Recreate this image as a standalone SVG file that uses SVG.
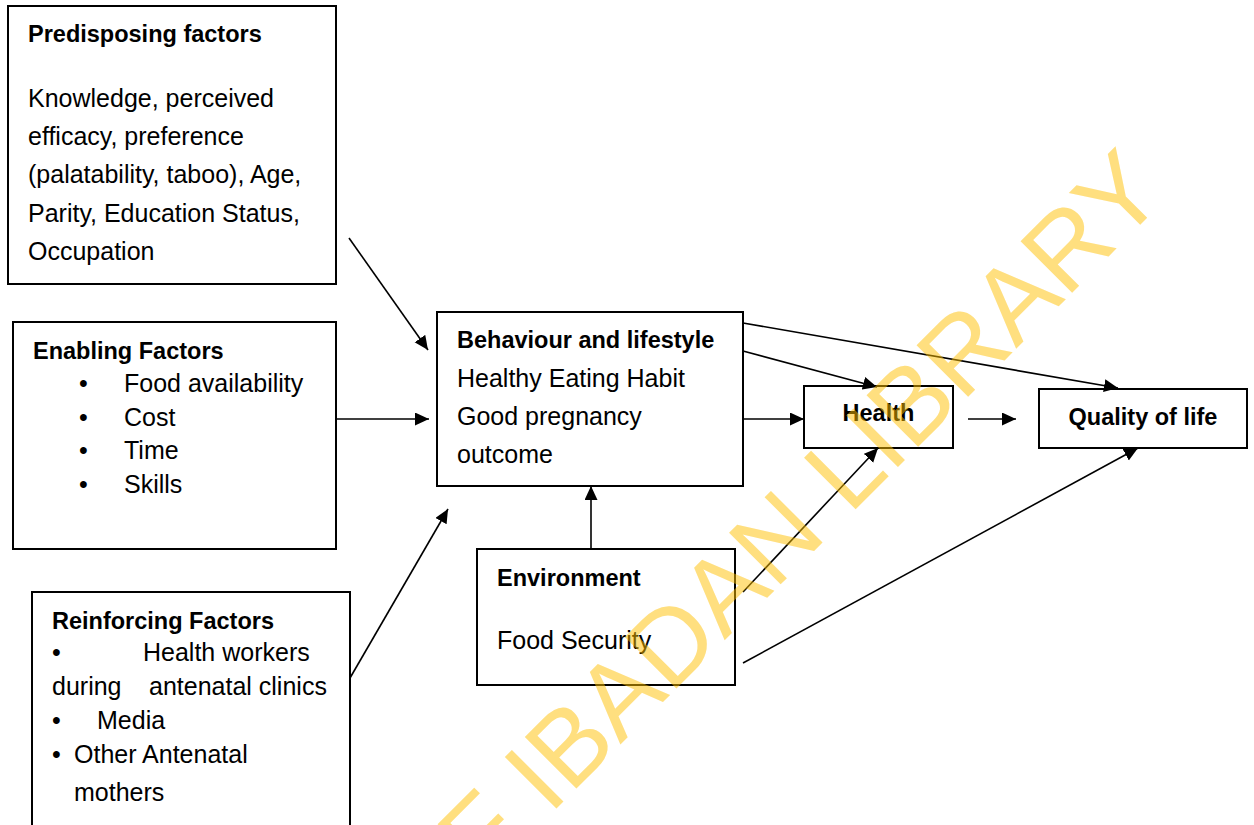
<svg xmlns="http://www.w3.org/2000/svg" width="1254" height="825" viewBox="0 0 1254 825">
  <style>
    .box { fill: #ffffff; stroke: #000000; stroke-width: 2; }
    .title { font-family: "Liberation Sans", Arial, sans-serif; font-weight: bold; font-size: 23.5px; fill: #000000; }
    .body { font-family: "Liberation Sans", Arial, sans-serif; font-size: 25px; fill: #000000; }
    .link { fill: none; stroke: #000000; stroke-width: 1.6; marker-end: url(#arrow); }
    .mark { font-family: "Liberation Sans", Arial, sans-serif; font-size: 106px; fill: #ffc000; fill-opacity: 0.5; }
  </style>
  <defs>
    <marker id="arrow" markerUnits="userSpaceOnUse" markerWidth="16" markerHeight="14" refX="14" refY="6.5" orient="auto">
      <path d="M0,0 L14,6.5 L0,13 Z" fill="#000000"/>
    </marker>
  </defs>

  <rect width="1254" height="825" fill="#ffffff"/>

  <g id="predisposing">
    <rect class="box" x="8" y="6" width="328" height="278"/>
    <text class="title" x="28" y="42">Predisposing factors</text>
    <text class="body" x="28" y="107">Knowledge, perceived</text>
    <text class="body" x="28" y="145">efficacy, preference</text>
    <text class="body" x="28" y="183">(palatability, taboo), Age,</text>
    <text class="body" x="28" y="222">Parity, Education Status,</text>
    <text class="body" x="28" y="260">Occupation</text>
  </g>

  <g id="enabling">
    <rect class="box" x="13" y="322" width="323" height="227"/>
    <text class="title" x="33" y="359">Enabling Factors</text>
    <text class="body" x="79" y="392">•</text>
    <text class="body" x="124" y="392">Food availability</text>
    <text class="body" x="79" y="426">•</text>
    <text class="body" x="124" y="426">Cost</text>
    <text class="body" x="79" y="459">•</text>
    <text class="body" x="124" y="459">Time</text>
    <text class="body" x="79" y="493">•</text>
    <text class="body" x="124" y="493">Skills</text>
  </g>

  <g id="reinforcing">
    <rect class="box" x="32" y="592" width="318" height="250"/>
    <text class="title" x="52" y="629">Reinforcing Factors</text>
    <text class="body" x="52" y="661">•</text>
    <text class="body" x="143" y="661">Health workers</text>
    <text class="body" x="52" y="695">during</text>
    <text class="body" x="149" y="695">antenatal clinics</text>
    <text class="body" x="52" y="729">•</text>
    <text class="body" x="97" y="729">Media</text>
    <text class="body" x="52" y="763">•</text>
    <text class="body" x="74" y="763">Other Antenatal</text>
    <text class="body" x="74" y="801">mothers</text>
  </g>

  <g id="behaviour">
    <rect class="box" x="437" y="312" width="306" height="174"/>
    <text class="title" x="457" y="348">Behaviour and lifestyle</text>
    <text class="body" x="457" y="387">Healthy Eating Habit</text>
    <text class="body" x="457" y="425">Good pregnancy</text>
    <text class="body" x="457" y="463">outcome</text>
  </g>

  <g id="environment">
    <rect class="box" x="477" y="549" width="258" height="136"/>
    <text class="title" x="497" y="586">Environment</text>
    <text class="body" x="497" y="649">Food Security</text>
  </g>

  <g id="health">
    <rect class="box" x="804" y="386" width="149" height="62"/>
    <text class="title" x="878.5" y="421" text-anchor="middle">Health</text>
  </g>

  <g id="quality">
    <rect class="box" x="1039" y="389" width="208" height="59"/>
    <text class="title" x="1143" y="425" text-anchor="middle">Quality of life</text>
  </g>

  <g id="connectors">
    <line class="link" x1="349" y1="238" x2="428" y2="350"/>
    <line class="link" x1="336" y1="419" x2="429" y2="419"/>
    <line class="link" x1="350" y1="678" x2="448" y2="509"/>
    <line class="link" x1="591" y1="549" x2="591" y2="486"/>
    <line class="link" x1="743" y1="419" x2="804" y2="419"/>
    <line class="link" x1="743" y1="351" x2="877" y2="387"/>
    <line class="link" x1="743" y1="323" x2="1118" y2="388"/>
    <line class="link" x1="968" y1="419" x2="1016" y2="419"/>
    <line class="link" x1="743" y1="592" x2="878" y2="448"/>
    <line class="link" x1="743" y1="663" x2="1138" y2="448"/>
  </g>

  <!-- library stamp laid over the chart -->
  <g transform="translate(560,805) rotate(-45)">
    <text class="mark" x="-109" y="0">F IBADAN LIBRARY</text>
  </g>
</svg>
